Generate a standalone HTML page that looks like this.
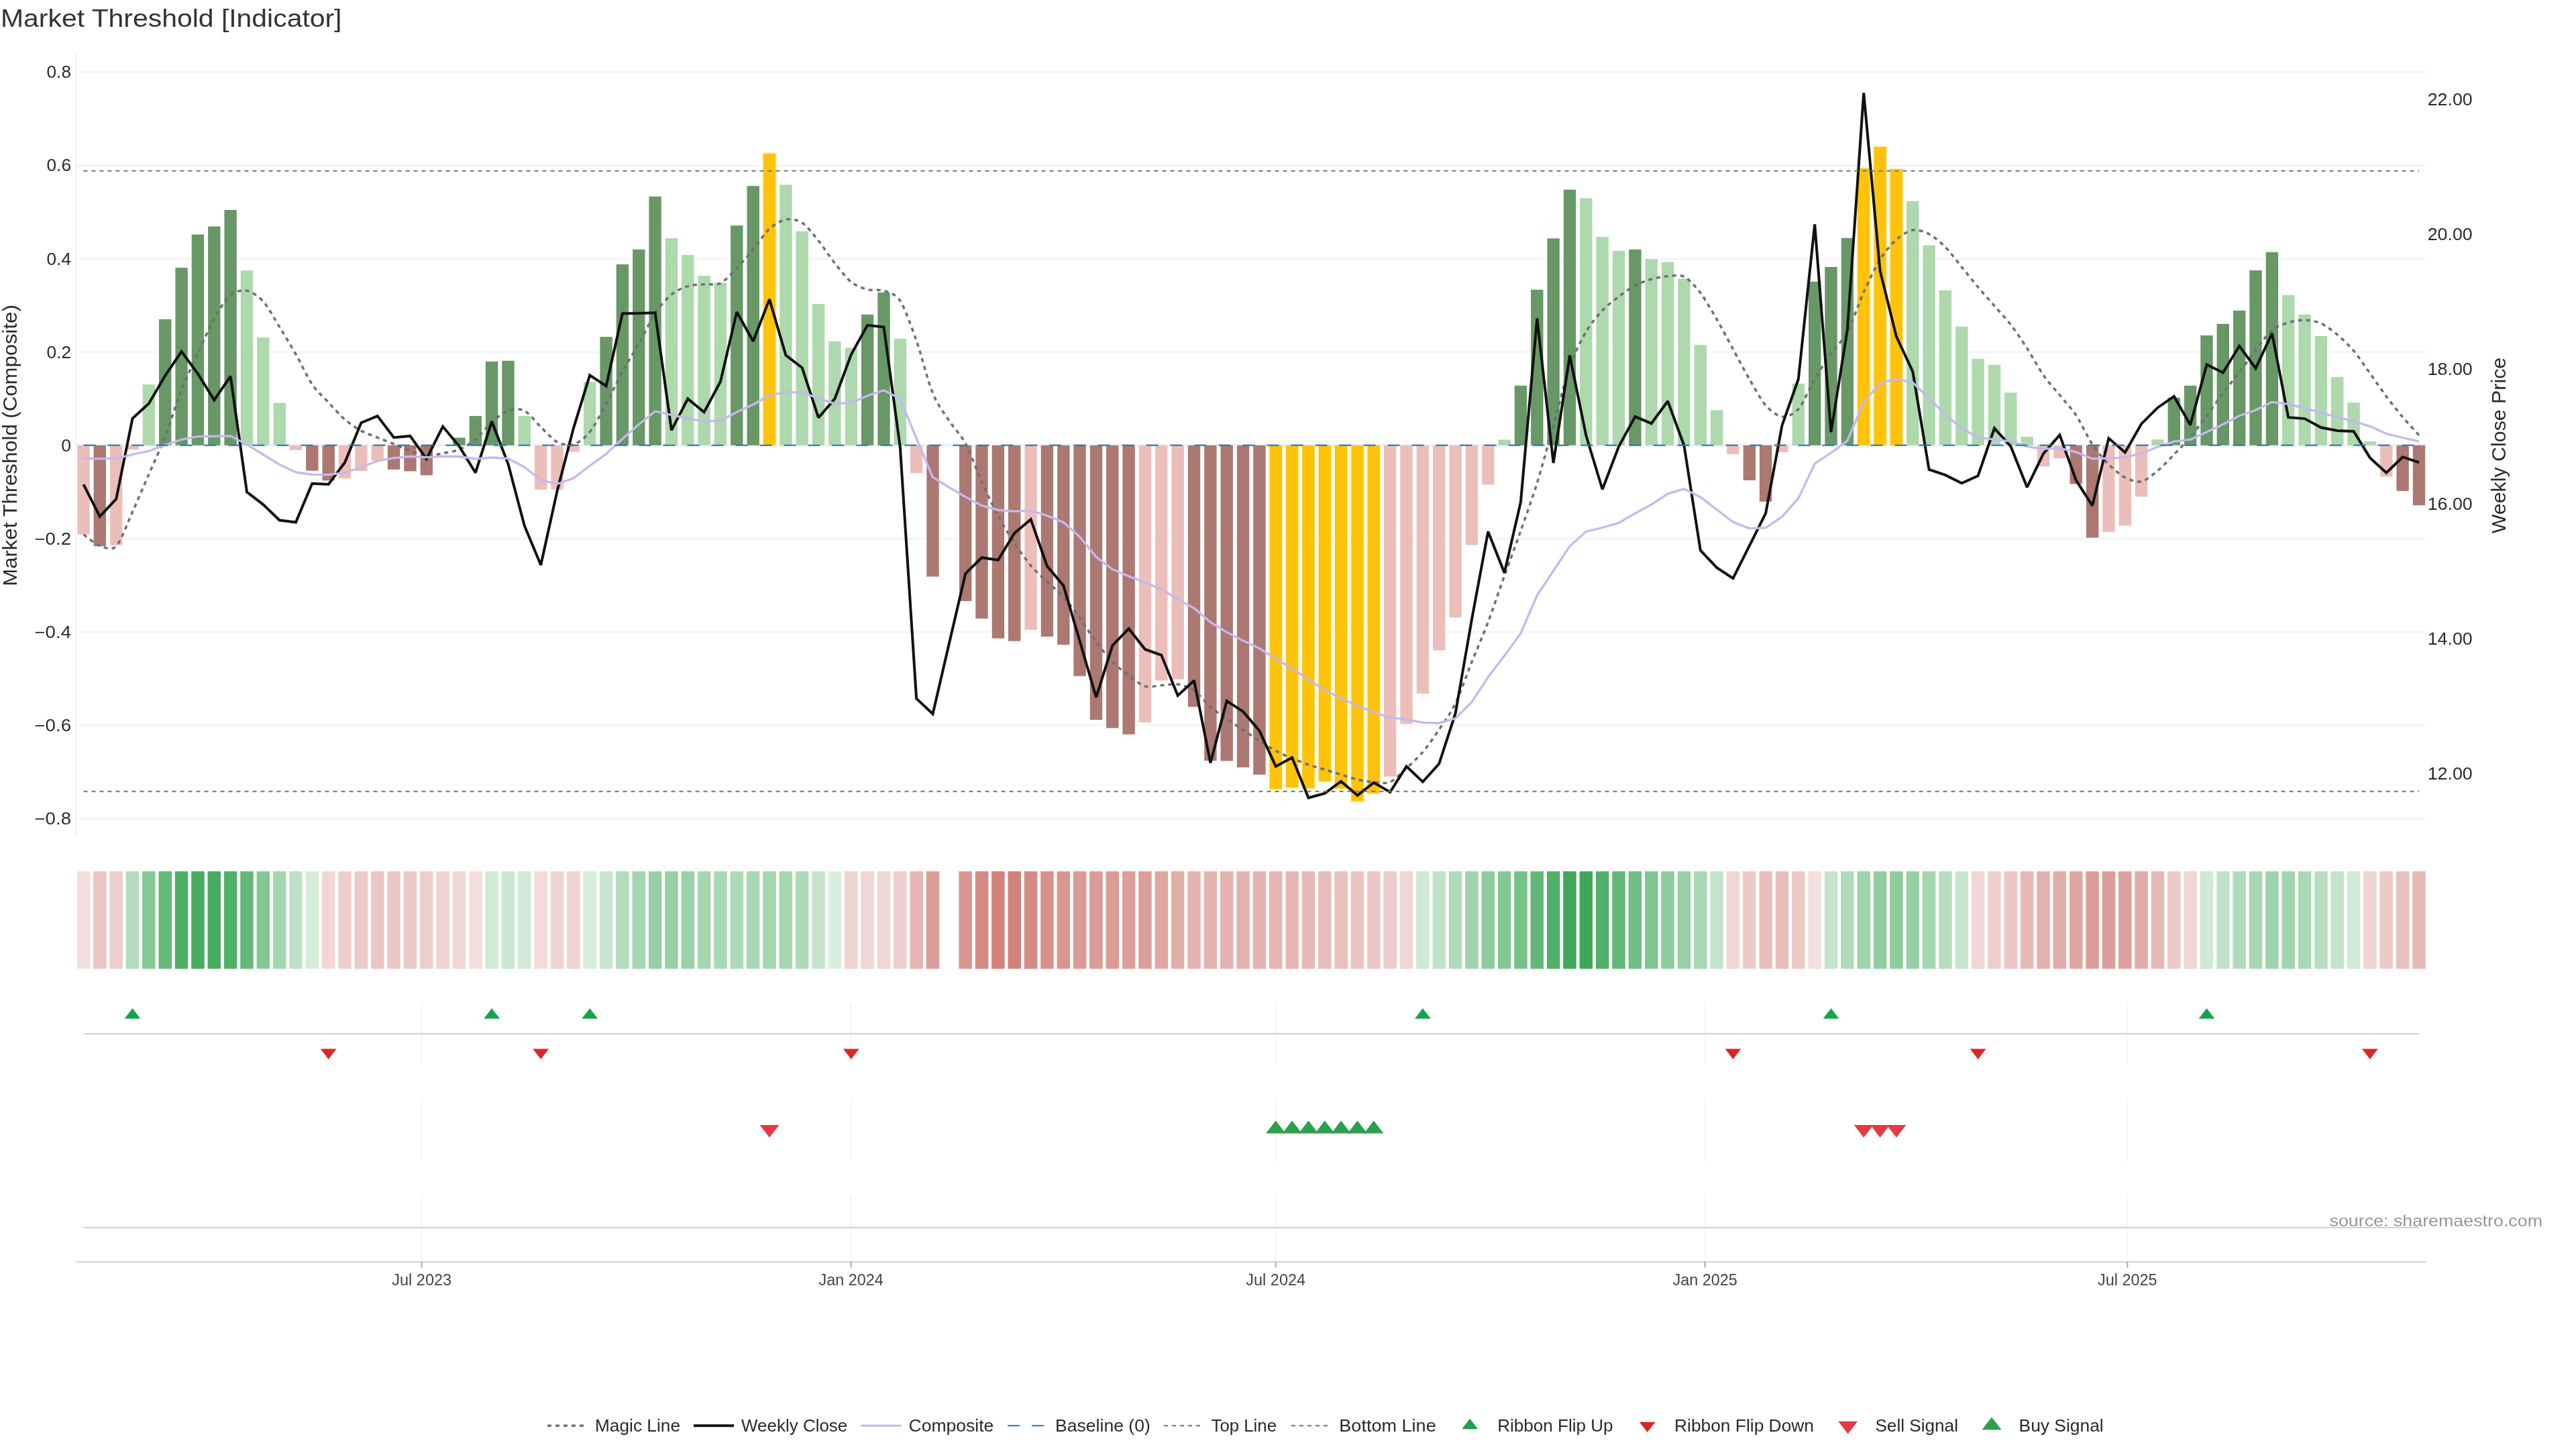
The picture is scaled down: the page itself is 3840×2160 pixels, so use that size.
<!DOCTYPE html>
<html><head><meta charset="utf-8"><title>Market Threshold [Indicator]</title>
<style>html,body{margin:0;padding:0;background:#fff;}svg{display:block;will-change:transform;}text{font-family:"Liberation Sans", sans-serif;}</style></head><body>
<svg width="3840" height="2160" viewBox="0 0 3840 2160">
<rect width="3840" height="2160" fill="#fff"/>
<line x1="113" x2="3616" y1="107.4" y2="107.4" stroke="#eef1f6" stroke-width="2"/>
<line x1="113" x2="3616" y1="247.1" y2="247.1" stroke="#eef1f6" stroke-width="2"/>
<line x1="113" x2="3616" y1="386" y2="386" stroke="#eef1f6" stroke-width="2"/>
<line x1="113" x2="3616" y1="524.8" y2="524.8" stroke="#eef1f6" stroke-width="2"/>
<line x1="113" x2="3616" y1="803" y2="803" stroke="#eef1f6" stroke-width="2"/>
<line x1="113" x2="3616" y1="942.1" y2="942.1" stroke="#eef1f6" stroke-width="2"/>
<line x1="113" x2="3616" y1="1081.3" y2="1081.3" stroke="#eef1f6" stroke-width="2"/>
<line x1="113" x2="3616" y1="1220.5" y2="1220.5" stroke="#eef1f6" stroke-width="2"/>
<line x1="113" x2="3616" y1="663.8" y2="663.8" stroke="#eef0f4" stroke-width="4"/>
<line x1="113" x2="113" y1="80" y2="1248" stroke="#eef0f8" stroke-width="2"/>
<rect x="113.6" y="663.8" width="21.8" height="134.7" fill="#fff"/>
<rect x="115.3" y="663.8" width="18.4" height="133" fill="#ecbeba"/>
<rect x="137.9" y="663.8" width="21.8" height="152.2" fill="#fff"/>
<rect x="139.6" y="663.8" width="18.4" height="150.5" fill="#ac7872"/>
<rect x="162.3" y="663.8" width="21.8" height="150.7" fill="#fff"/>
<rect x="164" y="663.8" width="18.4" height="149" fill="#ecbeba"/>
<rect x="186.6" y="663.8" width="21.8" height="8.3" fill="#fff"/>
<rect x="188.3" y="663.8" width="18.4" height="6.6" fill="#ecbeba"/>
<rect x="211" y="571.5" width="21.8" height="92.3" fill="#fff"/>
<rect x="212.7" y="573.2" width="18.4" height="90.6" fill="#add9ac"/>
<rect x="235.3" y="474.2" width="21.8" height="189.6" fill="#fff"/>
<rect x="237" y="475.9" width="18.4" height="187.9" fill="#679866"/>
<rect x="259.7" y="397.4" width="21.8" height="266.4" fill="#fff"/>
<rect x="261.4" y="399.1" width="18.4" height="264.7" fill="#679866"/>
<rect x="284" y="347.9" width="21.8" height="315.9" fill="#fff"/>
<rect x="285.7" y="349.6" width="18.4" height="314.2" fill="#679866"/>
<rect x="308.4" y="335.9" width="21.8" height="327.9" fill="#fff"/>
<rect x="310.1" y="337.6" width="18.4" height="326.2" fill="#679866"/>
<rect x="332.7" y="311.3" width="21.8" height="352.5" fill="#fff"/>
<rect x="334.4" y="313" width="18.4" height="350.8" fill="#679866"/>
<rect x="357.1" y="401.5" width="21.8" height="262.3" fill="#fff"/>
<rect x="358.8" y="403.2" width="18.4" height="260.6" fill="#add9ac"/>
<rect x="381.4" y="501.4" width="21.8" height="162.4" fill="#fff"/>
<rect x="383.1" y="503.1" width="18.4" height="160.7" fill="#add9ac"/>
<rect x="405.8" y="599" width="21.8" height="64.8" fill="#fff"/>
<rect x="407.5" y="600.7" width="18.4" height="63.1" fill="#add9ac"/>
<rect x="430.1" y="663.8" width="21.8" height="8.7" fill="#fff"/>
<rect x="431.8" y="663.8" width="18.4" height="7" fill="#ecbeba"/>
<rect x="454.4" y="663.8" width="21.8" height="39.6" fill="#fff"/>
<rect x="456.1" y="663.8" width="18.4" height="37.9" fill="#ac7872"/>
<rect x="478.8" y="663.8" width="21.8" height="54.2" fill="#fff"/>
<rect x="480.5" y="663.8" width="18.4" height="52.5" fill="#ac7872"/>
<rect x="503.1" y="663.8" width="21.8" height="51.2" fill="#fff"/>
<rect x="504.8" y="663.8" width="18.4" height="49.5" fill="#ecbeba"/>
<rect x="527.5" y="663.8" width="21.8" height="40" fill="#fff"/>
<rect x="529.2" y="663.8" width="18.4" height="38.3" fill="#ecbeba"/>
<rect x="551.8" y="663.8" width="21.8" height="24.9" fill="#fff"/>
<rect x="553.5" y="663.8" width="18.4" height="23.2" fill="#ecbeba"/>
<rect x="576.2" y="663.8" width="21.8" height="37.8" fill="#fff"/>
<rect x="577.9" y="663.8" width="18.4" height="36.1" fill="#ac7872"/>
<rect x="600.5" y="663.8" width="21.8" height="40.4" fill="#fff"/>
<rect x="602.2" y="663.8" width="18.4" height="38.7" fill="#ac7872"/>
<rect x="624.9" y="663.8" width="21.8" height="46.3" fill="#fff"/>
<rect x="626.6" y="663.8" width="18.4" height="44.6" fill="#ac7872"/>
<rect x="673.6" y="650.8" width="21.8" height="13" fill="#fff"/>
<rect x="675.3" y="652.5" width="18.4" height="11.3" fill="#679866"/>
<rect x="697.9" y="618.4" width="21.8" height="45.4" fill="#fff"/>
<rect x="699.6" y="620.1" width="18.4" height="43.7" fill="#679866"/>
<rect x="722.2" y="537.2" width="21.8" height="126.6" fill="#fff"/>
<rect x="723.9" y="538.9" width="18.4" height="124.9" fill="#679866"/>
<rect x="746.6" y="536.1" width="21.8" height="127.7" fill="#fff"/>
<rect x="748.3" y="537.8" width="18.4" height="126" fill="#679866"/>
<rect x="770.9" y="618.4" width="21.8" height="45.4" fill="#fff"/>
<rect x="772.6" y="620.1" width="18.4" height="43.7" fill="#add9ac"/>
<rect x="795.3" y="663.8" width="21.8" height="67.6" fill="#fff"/>
<rect x="797" y="663.8" width="18.4" height="65.9" fill="#ecbeba"/>
<rect x="819.6" y="663.8" width="21.8" height="67.6" fill="#fff"/>
<rect x="821.3" y="663.8" width="18.4" height="65.9" fill="#ecbeba"/>
<rect x="844" y="663.8" width="21.8" height="11.3" fill="#fff"/>
<rect x="845.7" y="663.8" width="18.4" height="9.6" fill="#ecbeba"/>
<rect x="868.3" y="567.7" width="21.8" height="96.1" fill="#fff"/>
<rect x="870" y="569.4" width="18.4" height="94.4" fill="#add9ac"/>
<rect x="892.7" y="500.5" width="21.8" height="163.3" fill="#fff"/>
<rect x="894.4" y="502.2" width="18.4" height="161.6" fill="#679866"/>
<rect x="917" y="392.4" width="21.8" height="271.4" fill="#fff"/>
<rect x="918.7" y="394.1" width="18.4" height="269.7" fill="#679866"/>
<rect x="941.4" y="370.2" width="21.8" height="293.6" fill="#fff"/>
<rect x="943.1" y="371.9" width="18.4" height="291.9" fill="#679866"/>
<rect x="965.7" y="291.2" width="21.8" height="372.6" fill="#fff"/>
<rect x="967.4" y="292.9" width="18.4" height="370.9" fill="#679866"/>
<rect x="990.1" y="353.5" width="21.8" height="310.3" fill="#fff"/>
<rect x="991.8" y="355.2" width="18.4" height="308.6" fill="#add9ac"/>
<rect x="1014.4" y="378.4" width="21.8" height="285.4" fill="#fff"/>
<rect x="1016.1" y="380.1" width="18.4" height="283.7" fill="#add9ac"/>
<rect x="1038.7" y="409.4" width="21.8" height="254.4" fill="#fff"/>
<rect x="1040.4" y="411.1" width="18.4" height="252.7" fill="#add9ac"/>
<rect x="1063.1" y="419.8" width="21.8" height="244" fill="#fff"/>
<rect x="1064.8" y="421.5" width="18.4" height="242.3" fill="#add9ac"/>
<rect x="1087.4" y="334.5" width="21.8" height="329.3" fill="#fff"/>
<rect x="1089.1" y="336.2" width="18.4" height="327.6" fill="#679866"/>
<rect x="1111.8" y="275.6" width="21.8" height="388.2" fill="#fff"/>
<rect x="1113.5" y="277.3" width="18.4" height="386.5" fill="#679866"/>
<rect x="1135.8" y="226.8" width="22.4" height="437" fill="#fff6d2"/>
<rect x="1137.8" y="228.8" width="18.4" height="435" fill="#fec30a"/>
<rect x="1160.5" y="273.7" width="21.8" height="390.1" fill="#fff"/>
<rect x="1162.2" y="275.4" width="18.4" height="388.4" fill="#add9ac"/>
<rect x="1184.8" y="343" width="21.8" height="320.8" fill="#fff"/>
<rect x="1186.5" y="344.7" width="18.4" height="319.1" fill="#add9ac"/>
<rect x="1209.2" y="451.5" width="21.8" height="212.3" fill="#fff"/>
<rect x="1210.9" y="453.2" width="18.4" height="210.6" fill="#add9ac"/>
<rect x="1233.5" y="507" width="21.8" height="156.8" fill="#fff"/>
<rect x="1235.2" y="508.7" width="18.4" height="155.1" fill="#add9ac"/>
<rect x="1257.9" y="516.7" width="21.8" height="147.1" fill="#fff"/>
<rect x="1259.6" y="518.4" width="18.4" height="145.4" fill="#add9ac"/>
<rect x="1282.2" y="467.1" width="21.8" height="196.7" fill="#fff"/>
<rect x="1283.9" y="468.8" width="18.4" height="195" fill="#679866"/>
<rect x="1306.6" y="434.3" width="21.8" height="229.5" fill="#fff"/>
<rect x="1308.3" y="436" width="18.4" height="227.8" fill="#679866"/>
<rect x="1330.9" y="503.3" width="21.8" height="160.5" fill="#fff"/>
<rect x="1332.6" y="505" width="18.4" height="158.8" fill="#add9ac"/>
<rect x="1355.2" y="663.8" width="21.8" height="43.1" fill="#fff"/>
<rect x="1356.9" y="663.8" width="18.4" height="41.4" fill="#ecbeba"/>
<rect x="1379.6" y="663.8" width="21.8" height="197.4" fill="#fff"/>
<rect x="1381.3" y="663.8" width="18.4" height="195.7" fill="#ac7872"/>
<rect x="1428.3" y="663.8" width="21.8" height="233.9" fill="#fff"/>
<rect x="1430" y="663.8" width="18.4" height="232.2" fill="#ac7872"/>
<rect x="1452.6" y="663.8" width="21.8" height="260" fill="#fff"/>
<rect x="1454.3" y="663.8" width="18.4" height="258.3" fill="#ac7872"/>
<rect x="1477" y="663.8" width="21.8" height="289.5" fill="#fff"/>
<rect x="1478.7" y="663.8" width="18.4" height="287.8" fill="#ac7872"/>
<rect x="1501.3" y="663.8" width="21.8" height="293.6" fill="#fff"/>
<rect x="1503" y="663.8" width="18.4" height="291.9" fill="#ac7872"/>
<rect x="1525.7" y="663.8" width="21.8" height="276.8" fill="#fff"/>
<rect x="1527.4" y="663.8" width="18.4" height="275.1" fill="#ecbeba"/>
<rect x="1550" y="663.8" width="21.8" height="286.9" fill="#fff"/>
<rect x="1551.7" y="663.8" width="18.4" height="285.2" fill="#ac7872"/>
<rect x="1574.4" y="663.8" width="21.8" height="299.1" fill="#fff"/>
<rect x="1576.1" y="663.8" width="18.4" height="297.4" fill="#ac7872"/>
<rect x="1598.7" y="663.8" width="21.8" height="345.7" fill="#fff"/>
<rect x="1600.4" y="663.8" width="18.4" height="344" fill="#ac7872"/>
<rect x="1623.1" y="663.8" width="21.8" height="410.9" fill="#fff"/>
<rect x="1624.8" y="663.8" width="18.4" height="409.2" fill="#ac7872"/>
<rect x="1647.4" y="663.8" width="21.8" height="423.2" fill="#fff"/>
<rect x="1649.1" y="663.8" width="18.4" height="421.5" fill="#ac7872"/>
<rect x="1671.7" y="663.8" width="21.8" height="432.6" fill="#fff"/>
<rect x="1673.4" y="663.8" width="18.4" height="430.9" fill="#ac7872"/>
<rect x="1696.1" y="663.8" width="21.8" height="414.7" fill="#fff"/>
<rect x="1697.8" y="663.8" width="18.4" height="413" fill="#ecbeba"/>
<rect x="1720.4" y="663.8" width="21.8" height="352.4" fill="#fff"/>
<rect x="1722.1" y="663.8" width="18.4" height="350.7" fill="#ecbeba"/>
<rect x="1744.8" y="663.8" width="21.8" height="350.6" fill="#fff"/>
<rect x="1746.5" y="663.8" width="18.4" height="348.9" fill="#ecbeba"/>
<rect x="1769.1" y="663.8" width="21.8" height="391.6" fill="#fff"/>
<rect x="1770.8" y="663.8" width="18.4" height="389.9" fill="#ac7872"/>
<rect x="1793.5" y="663.8" width="21.8" height="471.9" fill="#fff"/>
<rect x="1795.2" y="663.8" width="18.4" height="470.2" fill="#ac7872"/>
<rect x="1817.8" y="663.8" width="21.8" height="472.2" fill="#fff"/>
<rect x="1819.5" y="663.8" width="18.4" height="470.5" fill="#ac7872"/>
<rect x="1842.2" y="663.8" width="21.8" height="481.8" fill="#fff"/>
<rect x="1843.9" y="663.8" width="18.4" height="480.1" fill="#ac7872"/>
<rect x="1866.5" y="663.8" width="21.8" height="492.6" fill="#fff"/>
<rect x="1868.2" y="663.8" width="18.4" height="490.9" fill="#ac7872"/>
<rect x="1890.6" y="663.8" width="22.4" height="514.5" fill="#fff6d2"/>
<rect x="1892.6" y="663.8" width="18.4" height="512.5" fill="#fec30a"/>
<rect x="1914.9" y="663.8" width="22.4" height="512.2" fill="#fff6d2"/>
<rect x="1916.9" y="663.8" width="18.4" height="510.2" fill="#fec30a"/>
<rect x="1939.2" y="663.8" width="22.4" height="513.4" fill="#fff6d2"/>
<rect x="1941.2" y="663.8" width="18.4" height="511.4" fill="#fec30a"/>
<rect x="1963.6" y="663.8" width="22.4" height="502.9" fill="#fff6d2"/>
<rect x="1965.6" y="663.8" width="18.4" height="500.9" fill="#fec30a"/>
<rect x="1987.9" y="663.8" width="22.4" height="513.7" fill="#fff6d2"/>
<rect x="1989.9" y="663.8" width="18.4" height="511.7" fill="#fec30a"/>
<rect x="2012.3" y="663.8" width="22.4" height="532.7" fill="#fff6d2"/>
<rect x="2014.3" y="663.8" width="18.4" height="530.7" fill="#fec30a"/>
<rect x="2036.6" y="663.8" width="22.4" height="520.8" fill="#fff6d2"/>
<rect x="2038.6" y="663.8" width="18.4" height="518.8" fill="#fec30a"/>
<rect x="2061.3" y="663.8" width="21.8" height="495.5" fill="#fff"/>
<rect x="2063" y="663.8" width="18.4" height="493.8" fill="#ecbeba"/>
<rect x="2085.6" y="663.8" width="21.8" height="417.3" fill="#fff"/>
<rect x="2087.3" y="663.8" width="18.4" height="415.6" fill="#ecbeba"/>
<rect x="2110" y="663.8" width="21.8" height="371.8" fill="#fff"/>
<rect x="2111.7" y="663.8" width="18.4" height="370.1" fill="#ecbeba"/>
<rect x="2134.3" y="663.8" width="21.8" height="307.3" fill="#fff"/>
<rect x="2136" y="663.8" width="18.4" height="305.6" fill="#ecbeba"/>
<rect x="2158.7" y="663.8" width="21.8" height="258.5" fill="#fff"/>
<rect x="2160.4" y="663.8" width="18.4" height="256.8" fill="#ecbeba"/>
<rect x="2183" y="663.8" width="21.8" height="150.4" fill="#fff"/>
<rect x="2184.7" y="663.8" width="18.4" height="148.7" fill="#ecbeba"/>
<rect x="2207.4" y="663.8" width="21.8" height="60.3" fill="#fff"/>
<rect x="2209.1" y="663.8" width="18.4" height="58.6" fill="#ecbeba"/>
<rect x="2231.7" y="653.7" width="21.8" height="10.1" fill="#fff"/>
<rect x="2233.4" y="655.4" width="18.4" height="8.4" fill="#add9ac"/>
<rect x="2256" y="573.2" width="21.8" height="90.6" fill="#fff"/>
<rect x="2257.7" y="574.9" width="18.4" height="88.9" fill="#679866"/>
<rect x="2280.4" y="430.1" width="21.8" height="233.7" fill="#fff"/>
<rect x="2282.1" y="431.8" width="18.4" height="232" fill="#679866"/>
<rect x="2304.7" y="353.7" width="21.8" height="310.1" fill="#fff"/>
<rect x="2306.4" y="355.4" width="18.4" height="308.4" fill="#679866"/>
<rect x="2329.1" y="281" width="21.8" height="382.8" fill="#fff"/>
<rect x="2330.8" y="282.7" width="18.4" height="381.1" fill="#679866"/>
<rect x="2353.4" y="293.7" width="21.8" height="370.1" fill="#fff"/>
<rect x="2355.1" y="295.4" width="18.4" height="368.4" fill="#add9ac"/>
<rect x="2377.8" y="351.5" width="21.8" height="312.3" fill="#fff"/>
<rect x="2379.5" y="353.2" width="18.4" height="310.6" fill="#add9ac"/>
<rect x="2402.1" y="372.3" width="21.8" height="291.5" fill="#fff"/>
<rect x="2403.8" y="374" width="18.4" height="289.8" fill="#add9ac"/>
<rect x="2426.5" y="370.1" width="21.8" height="293.7" fill="#fff"/>
<rect x="2428.2" y="371.8" width="18.4" height="292" fill="#679866"/>
<rect x="2450.8" y="384.3" width="21.8" height="279.5" fill="#fff"/>
<rect x="2452.5" y="386" width="18.4" height="277.8" fill="#add9ac"/>
<rect x="2475.2" y="389.1" width="21.8" height="274.7" fill="#fff"/>
<rect x="2476.9" y="390.8" width="18.4" height="273" fill="#add9ac"/>
<rect x="2499.5" y="413.7" width="21.8" height="250.1" fill="#fff"/>
<rect x="2501.2" y="415.4" width="18.4" height="248.4" fill="#add9ac"/>
<rect x="2523.9" y="512.5" width="21.8" height="151.3" fill="#fff"/>
<rect x="2525.6" y="514.2" width="18.4" height="149.6" fill="#add9ac"/>
<rect x="2548.2" y="609.7" width="21.8" height="54.1" fill="#fff"/>
<rect x="2549.9" y="611.4" width="18.4" height="52.4" fill="#add9ac"/>
<rect x="2572.5" y="663.8" width="21.8" height="14.9" fill="#fff"/>
<rect x="2574.2" y="663.8" width="18.4" height="13.2" fill="#ecbeba"/>
<rect x="2596.9" y="663.8" width="21.8" height="53.9" fill="#fff"/>
<rect x="2598.6" y="663.8" width="18.4" height="52.2" fill="#ac7872"/>
<rect x="2621.2" y="663.8" width="21.8" height="85.6" fill="#fff"/>
<rect x="2622.9" y="663.8" width="18.4" height="83.9" fill="#ac7872"/>
<rect x="2645.6" y="663.8" width="21.8" height="11.9" fill="#fff"/>
<rect x="2647.3" y="663.8" width="18.4" height="10.2" fill="#ecbeba"/>
<rect x="2669.9" y="570.2" width="21.8" height="93.6" fill="#fff"/>
<rect x="2671.6" y="571.9" width="18.4" height="91.9" fill="#add9ac"/>
<rect x="2694.3" y="418.1" width="21.8" height="245.7" fill="#fff"/>
<rect x="2696" y="419.8" width="18.4" height="244" fill="#679866"/>
<rect x="2718.6" y="396.3" width="21.8" height="267.5" fill="#fff"/>
<rect x="2720.3" y="398" width="18.4" height="265.8" fill="#679866"/>
<rect x="2743" y="353.1" width="21.8" height="310.7" fill="#fff"/>
<rect x="2744.7" y="354.8" width="18.4" height="309" fill="#679866"/>
<rect x="2767" y="248.9" width="22.4" height="414.9" fill="#fff6d2"/>
<rect x="2769" y="250.9" width="18.4" height="412.9" fill="#fec30a"/>
<rect x="2791.4" y="216.9" width="22.4" height="446.9" fill="#fff6d2"/>
<rect x="2793.4" y="218.9" width="18.4" height="444.9" fill="#fec30a"/>
<rect x="2815.7" y="250.1" width="22.4" height="413.7" fill="#fff6d2"/>
<rect x="2817.7" y="252.1" width="18.4" height="411.7" fill="#fec30a"/>
<rect x="2840.4" y="298.1" width="21.8" height="365.7" fill="#fff"/>
<rect x="2842.1" y="299.8" width="18.4" height="364" fill="#add9ac"/>
<rect x="2864.7" y="364" width="21.8" height="299.8" fill="#fff"/>
<rect x="2866.4" y="365.7" width="18.4" height="298.1" fill="#add9ac"/>
<rect x="2889" y="431.1" width="21.8" height="232.7" fill="#fff"/>
<rect x="2890.7" y="432.8" width="18.4" height="231" fill="#add9ac"/>
<rect x="2913.4" y="485.1" width="21.8" height="178.7" fill="#fff"/>
<rect x="2915.1" y="486.8" width="18.4" height="177" fill="#add9ac"/>
<rect x="2937.7" y="533.3" width="21.8" height="130.5" fill="#fff"/>
<rect x="2939.4" y="535" width="18.4" height="128.8" fill="#add9ac"/>
<rect x="2962.1" y="542.3" width="21.8" height="121.5" fill="#fff"/>
<rect x="2963.8" y="544" width="18.4" height="119.8" fill="#add9ac"/>
<rect x="2986.4" y="583.6" width="21.8" height="80.2" fill="#fff"/>
<rect x="2988.1" y="585.3" width="18.4" height="78.5" fill="#add9ac"/>
<rect x="3010.8" y="649.4" width="21.8" height="14.4" fill="#fff"/>
<rect x="3012.5" y="651.1" width="18.4" height="12.7" fill="#add9ac"/>
<rect x="3035.1" y="663.8" width="21.8" height="33.3" fill="#fff"/>
<rect x="3036.8" y="663.8" width="18.4" height="31.6" fill="#ecbeba"/>
<rect x="3059.5" y="663.8" width="21.8" height="21" fill="#fff"/>
<rect x="3061.2" y="663.8" width="18.4" height="19.3" fill="#ecbeba"/>
<rect x="3083.8" y="663.8" width="21.8" height="59.4" fill="#fff"/>
<rect x="3085.5" y="663.8" width="18.4" height="57.7" fill="#ac7872"/>
<rect x="3108.2" y="663.8" width="21.8" height="139.5" fill="#fff"/>
<rect x="3109.9" y="663.8" width="18.4" height="137.8" fill="#ac7872"/>
<rect x="3132.5" y="663.8" width="21.8" height="130.9" fill="#fff"/>
<rect x="3134.2" y="663.8" width="18.4" height="129.2" fill="#ecbeba"/>
<rect x="3156.9" y="663.8" width="21.8" height="121.3" fill="#fff"/>
<rect x="3158.6" y="663.8" width="18.4" height="119.6" fill="#ecbeba"/>
<rect x="3181.2" y="663.8" width="21.8" height="78.4" fill="#fff"/>
<rect x="3182.9" y="663.8" width="18.4" height="76.7" fill="#ecbeba"/>
<rect x="3205.5" y="653.5" width="21.8" height="10.3" fill="#fff"/>
<rect x="3207.2" y="655.2" width="18.4" height="8.6" fill="#add9ac"/>
<rect x="3229.9" y="591.1" width="21.8" height="72.7" fill="#fff"/>
<rect x="3231.6" y="592.8" width="18.4" height="71" fill="#679866"/>
<rect x="3254.2" y="573.2" width="21.8" height="90.6" fill="#fff"/>
<rect x="3255.9" y="574.9" width="18.4" height="88.9" fill="#679866"/>
<rect x="3278.6" y="498.3" width="21.8" height="165.5" fill="#fff"/>
<rect x="3280.3" y="500" width="18.4" height="163.8" fill="#679866"/>
<rect x="3302.9" y="481.1" width="21.8" height="182.7" fill="#fff"/>
<rect x="3304.6" y="482.8" width="18.4" height="181" fill="#679866"/>
<rect x="3327.3" y="461.3" width="21.8" height="202.5" fill="#fff"/>
<rect x="3329" y="463" width="18.4" height="200.8" fill="#679866"/>
<rect x="3351.6" y="401.3" width="21.8" height="262.5" fill="#fff"/>
<rect x="3353.3" y="403" width="18.4" height="260.8" fill="#679866"/>
<rect x="3376" y="374.1" width="21.8" height="289.7" fill="#fff"/>
<rect x="3377.7" y="375.8" width="18.4" height="288" fill="#679866"/>
<rect x="3400.3" y="438.2" width="21.8" height="225.6" fill="#fff"/>
<rect x="3402" y="439.9" width="18.4" height="223.9" fill="#add9ac"/>
<rect x="3424.7" y="467.2" width="21.8" height="196.6" fill="#fff"/>
<rect x="3426.4" y="468.9" width="18.4" height="194.9" fill="#add9ac"/>
<rect x="3449" y="499.3" width="21.8" height="164.5" fill="#fff"/>
<rect x="3450.7" y="501" width="18.4" height="162.8" fill="#add9ac"/>
<rect x="3473.3" y="560.4" width="21.8" height="103.4" fill="#fff"/>
<rect x="3475" y="562.1" width="18.4" height="101.7" fill="#add9ac"/>
<rect x="3497.7" y="598.5" width="21.8" height="65.3" fill="#fff"/>
<rect x="3499.4" y="600.2" width="18.4" height="63.6" fill="#add9ac"/>
<rect x="3522" y="656.1" width="21.8" height="7.7" fill="#fff"/>
<rect x="3523.7" y="657.8" width="18.4" height="6" fill="#add9ac"/>
<rect x="3546.4" y="663.8" width="21.8" height="48.6" fill="#fff"/>
<rect x="3548.1" y="663.8" width="18.4" height="46.9" fill="#ecbeba"/>
<rect x="3570.7" y="663.8" width="21.8" height="69.8" fill="#fff"/>
<rect x="3572.4" y="663.8" width="18.4" height="68.1" fill="#ac7872"/>
<rect x="3595.1" y="663.8" width="21.8" height="91.1" fill="#fff"/>
<rect x="3596.8" y="663.8" width="18.4" height="89.4" fill="#ac7872"/>
<path d="M124.5,796.8 C128,799.2 141.9,811 148.8,813.5 C155.8,816 166.2,821.5 173.2,814.3 C180.1,807.1 190.6,778.3 197.5,763 C204.5,747.7 214.9,723 221.9,707 C228.8,691 239.3,669 246.2,651 C253.2,633 263.6,598.7 270.6,581 C277.5,563.3 288,542.1 294.9,527 C301.9,511.9 312.3,487.5 319.3,475 C326.2,462.5 336.7,445.6 343.6,439.7 C350.6,433.8 361,432.1 368,433.4 C374.9,434.7 385.3,441.4 392.3,449.1 C399.3,456.8 409.7,476.2 416.7,487.5 C423.6,498.8 434,515.8 441,528 C448,540.2 458.4,562.7 465.3,573 C472.3,583.3 482.7,592.5 489.7,600 C496.6,607.5 507.1,619.3 514,625.3 C521,631.3 531.4,638.3 538.4,642.1 C545.3,645.9 555.8,649.4 562.7,652.2 C569.7,655 580.1,659.1 587.1,661.9 C594,664.7 604.5,669.4 611.4,671.9 C618.4,674.4 628.8,678.9 635.8,679.4 C642.7,679.9 653.2,677 660.1,675.7 C667.1,674.4 677.5,673 684.5,670.1 C691.4,667.2 701.8,661.1 708.8,655.2 C715.8,649.3 726.2,635.2 733.1,629.1 C740.1,623 750.5,614.7 757.5,612.3 C764.5,609.9 774.9,608.8 781.8,612.3 C788.8,615.8 799.2,629.8 806.2,636.5 C813.1,643.2 823.6,655.2 830.5,658.9 C837.5,662.6 847.9,664.7 854.9,662.6 C861.8,660.5 872.3,652.7 879.2,644 C886.2,635.3 896.6,614.9 903.6,602 C910.5,589.1 921,566.4 927.9,553.6 C934.9,540.8 945.3,525 952.3,512.6 C959.2,500.2 969.7,477.5 976.6,467 C983.6,456.5 994,444.8 1001,439 C1007.9,433.2 1018.3,428.9 1025.3,426.7 C1032.3,424.5 1042.7,424.3 1049.6,423.7 C1056.6,423.1 1067,425.6 1074,422.2 C1081,418.8 1091.4,407.1 1098.3,399.9 C1105.3,392.7 1115.7,380.3 1122.7,371.9 C1129.6,363.5 1140.1,347.4 1147,341 C1154,334.6 1164.4,328.5 1171.4,327.2 C1178.3,325.9 1188.8,327.5 1195.7,332 C1202.7,336.5 1213.1,350.3 1220.1,358.9 C1227,367.5 1237.5,383.6 1244.4,392.4 C1251.4,401.2 1261.8,414.8 1268.8,420.4 C1275.7,426 1286.2,429.7 1293.1,431.6 C1300.1,433.5 1310.5,431 1317.5,433.4 C1324.4,435.8 1334.8,437.6 1341.8,448.3 C1348.8,459 1359.2,488.3 1366.1,508 C1373.1,527.7 1383.5,569.2 1390.5,586.2 C1397.4,603.2 1407.9,616.5 1414.8,627.2 C1421.8,637.9 1432.2,648 1439.2,661 C1446.1,674 1456.6,703 1463.5,718.4 C1470.5,733.8 1480.9,755.6 1487.9,768.6 C1494.8,781.6 1505.3,799 1512.2,809.6 C1519.2,820.2 1529.6,834.9 1536.6,843.1 C1543.5,851.3 1554,860.6 1560.9,867.3 C1567.9,874 1578.3,882 1585.3,889.7 C1592.2,897.4 1602.7,911.8 1609.6,921.4 C1616.6,931 1627,947.5 1634,956.8 C1640.9,966.1 1651.3,979.4 1658.3,986.6 C1665.3,993.8 1675.7,1001.9 1682.6,1007.1 C1689.6,1012.3 1700,1021 1707,1023.1 C1713.9,1025.2 1724.4,1022 1731.3,1021.6 C1738.3,1021.2 1748.7,1019 1755.7,1020.1 C1762.6,1021.2 1773.1,1024.6 1780,1029.4 C1787,1034.2 1797.4,1047.8 1804.4,1053.8 C1811.3,1059.8 1821.8,1066.6 1828.7,1071.5 C1835.7,1076.4 1846.1,1083.6 1853.1,1088.3 C1860,1093 1870.5,1100 1877.4,1104.4 C1884.4,1108.8 1894.8,1115.6 1901.8,1119.3 C1908.7,1123 1919.1,1127.5 1926.1,1130.4 C1933.1,1133.3 1943.5,1137.4 1950.5,1139.8 C1957.4,1142.2 1967.8,1145.1 1974.8,1147.2 C1981.8,1149.3 1992.2,1152.6 1999.1,1154.7 C2006.1,1156.8 2016.5,1160.5 2023.5,1162.1 C2030.4,1163.7 2040.9,1165.3 2047.8,1165.8 C2054.8,1166.3 2065.2,1168.7 2072.2,1165.8 C2079.1,1162.9 2089.6,1151.7 2096.5,1145.3 C2103.5,1138.9 2113.9,1129.3 2120.9,1121.1 C2127.8,1112.9 2138.3,1098 2145.2,1087.6 C2152.2,1077.2 2162.6,1062.9 2169.6,1048.5 C2176.5,1034.1 2187,1004.3 2193.9,987 C2200.9,969.7 2211.3,945.7 2218.3,927.3 C2225.2,908.9 2235.6,877.8 2242.6,858.4 C2249.6,839 2260,811.1 2266.9,791.3 C2273.9,771.5 2284.3,742.5 2291.3,720.1 C2298.2,697.7 2308.7,659 2315.6,634.2 C2322.6,609.4 2333,566.6 2340,546.6 C2346.9,526.6 2357.4,506.4 2364.3,494.4 C2371.3,482.4 2381.7,470.2 2388.7,462.7 C2395.6,455.2 2406.1,447.5 2413,442.2 C2420,436.9 2430.4,429.2 2437.4,425.5 C2444.3,421.8 2454.8,418.2 2461.7,416.2 C2468.7,414.2 2479.1,412.2 2486.1,411.7 C2493,411.2 2503.5,408.8 2510.4,412.4 C2517.4,416 2527.8,427.5 2534.8,436.6 C2541.7,445.7 2552.1,463.8 2559.1,475.8 C2566.1,487.8 2576.5,507.7 2583.4,520.5 C2590.4,533.3 2600.8,553.2 2607.8,565.2 C2614.7,577.2 2625.2,596.4 2632.1,604.4 C2639.1,612.4 2649.5,620.3 2656.5,621.1 C2663.4,621.9 2673.9,617.9 2680.8,609.9 C2687.8,601.9 2698.2,576.8 2705.2,565 C2712.1,553.2 2722.6,537 2729.5,527 C2736.5,517 2746.9,508.1 2753.9,495 C2760.8,481.9 2771.3,450.8 2778.2,435.4 C2785.2,420 2795.6,398.2 2802.6,387 C2809.5,375.8 2819.9,363.4 2826.9,357.1 C2833.9,350.8 2844.3,344.2 2851.3,343 C2858.2,341.8 2868.6,345.3 2875.6,348.9 C2882.6,352.5 2893,361.3 2899.9,368.3 C2906.9,375.3 2917.3,389.6 2924.3,398.1 C2931.2,406.6 2941.7,419.7 2948.6,428 C2955.6,436.3 2966,447.9 2973,455.9 C2979.9,463.9 2990.4,474.9 2997.3,483.9 C3004.3,492.9 3014.7,508.4 3021.7,519.2 C3028.6,530 3039.1,549.2 3046,559.2 C3053,569.2 3063.4,580.5 3070.4,589 C3077.3,597.5 3087.8,608.5 3094.7,619 C3101.7,629.5 3112.1,652.1 3119.1,662.6 C3126,673.1 3136.4,685.4 3143.4,692.4 C3150.4,699.4 3160.8,708.2 3167.8,711.8 C3174.7,715.4 3185.1,719.2 3192.1,717.8 C3199.1,716.4 3209.5,707.5 3216.4,701.7 C3223.4,695.9 3233.8,684.7 3240.8,677.5 C3247.7,670.3 3258.2,659.6 3265.1,651.4 C3272.1,643.2 3282.5,629.3 3289.5,620 C3296.4,610.7 3306.9,595.3 3313.8,586 C3320.8,576.7 3331.2,564.1 3338.2,555 C3345.1,545.9 3355.6,531 3362.5,522 C3369.5,513 3379.9,498.1 3386.9,492.2 C3393.8,486.3 3404.3,483 3411.2,480.9 C3418.2,478.8 3428.6,477 3435.6,477.2 C3442.5,477.4 3452.9,478.9 3459.9,482 C3466.9,485.1 3477.3,492.9 3484.2,498.8 C3491.2,504.7 3501.6,514.8 3508.6,523 C3515.6,531.2 3526,546.8 3532.9,556.5 C3539.9,566.2 3550.3,581.6 3557.3,590.9 C3564.2,600.2 3574.7,613.4 3581.6,621.7 C3588.6,630 3602.5,644.8 3606,648.7" fill="none" stroke="#6e7075" stroke-width="3.5" stroke-dasharray="6 6"/>
<polyline points="124.5,722.2 148.8,769.9 173.2,743.9 197.5,623.9 221.9,601.5 246.2,560.1 270.6,524 294.9,557.1 319.3,596.3 343.6,560.9 368,733.4 392.3,752.1 416.7,775.5 441,778.5 465.3,720.7 489.7,721.9 514,689.4 538.4,630.2 562.7,620.1 587.1,652.2 611.4,649.9 635.8,684.2 660.1,635.8 684.5,665.2 708.8,704.7 733.1,628.3 757.5,691.7 781.8,783.7 806.2,842.2 830.5,732.3 854.9,638.3 879.2,559.4 903.6,575.5 927.9,467.2 952.3,467 976.6,466.2 1001,641.4 1025.3,594.4 1049.6,614.5 1074,568.7 1098.3,465.1 1122.7,508.7 1147,446.1 1171.4,529.6 1195.7,548.2 1220.1,622.7 1244.4,594.4 1268.8,528.5 1293.1,484.8 1317.5,487.5 1341.8,666.3 1366.1,1041.4 1390.5,1064.1 1414.8,959.5 1439.2,855 1463.5,831.2 1487.9,834.9 1512.2,794.7 1536.6,774.2 1560.9,843.9 1585.3,872.9 1609.6,955.6 1634,1039.5 1658.3,962.4 1682.6,937 1707,968 1731.3,976.5 1755.7,1036.9 1780,1014.5 1804.4,1137.2 1828.7,1044.9 1853.1,1060.7 1877.4,1089.4 1901.8,1142.4 1926.1,1129.3 1950.5,1189.3 1974.8,1182.6 1999.1,1164.7 2023.5,1185.6 2047.8,1166.6 2072.2,1180.8 2096.5,1142.4 2120.9,1165.5 2145.2,1138.6 2169.6,1063.4 2193.9,923.6 2218.3,792.4 2242.6,853.9 2266.9,748.4 2291.3,474.7 2315.6,690.1 2340,529.8 2364.3,649.1 2388.7,729.5 2413,665.8 2437.4,621.1 2461.7,631.2 2486.1,598 2510.4,664 2534.8,820.4 2559.1,846.1 2583.4,862.1 2607.8,813.7 2632.1,765.2 2656.5,634.2 2680.8,565.2 2705.2,334.5 2729.5,644.2 2753.9,491.3 2778.2,138.4 2802.6,403.7 2826.9,501.7 2851.3,553.9 2875.6,700 2899.9,708.1 2924.3,720.4 2948.6,709.2 2973,638.4 2997.3,665.2 3021.7,726.3 3046,676.4 3070.4,648.4 3094.7,715.9 3119.1,753.9 3143.4,653.3 3167.8,674.5 3192.1,631.9 3216.4,607.7 3240.8,590.9 3265.1,633.6 3289.5,543.4 3313.8,555.5 3338.2,515.8 3362.5,549 3386.9,496.8 3411.2,622.2 3435.6,624.1 3459.9,637.3 3484.2,642 3508.6,642.9 3532.9,682.4 3557.3,704.7 3581.6,681.2 3606,689.4" fill="none" stroke="#111" stroke-width="4" stroke-linejoin="miter" stroke-miterlimit="2"/>
<polyline points="124.5,683.5 148.8,683.9 173.2,683.5 197.5,677.5 221.9,672.3 246.2,663.4 270.6,655.2 294.9,650.7 319.3,650.3 343.6,649.9 368,662.6 392.3,677.5 416.7,692.4 441,704 465.3,707.3 489.7,707.7 514,704.7 538.4,696.2 562.7,687.2 587.1,682.7 611.4,680.5 635.8,681.6 660.1,680.5 684.5,680.5 708.8,684.2 733.1,682 757.5,683.5 781.8,696.2 806.2,715.5 830.5,721.5 854.9,712.9 879.2,694.3 903.6,676.6 927.9,654.3 952.3,632.8 976.6,613 1001,618.6 1025.3,623.5 1049.6,628.3 1074,627.2 1098.3,614.2 1122.7,603 1147,589.2 1171.4,584.4 1195.7,585.1 1220.1,593.7 1244.4,601.9 1268.8,600.4 1293.1,589.9 1317.5,581.7 1341.8,594.4 1366.1,653.3 1390.5,711.4 1414.8,726.5 1439.2,740.6 1463.5,753.7 1487.9,760.4 1512.2,762.2 1536.6,761.1 1560.9,768.6 1585.3,778.6 1609.6,800.2 1634,830.1 1658.3,848.7 1682.6,859.1 1707,868.1 1731.3,878.5 1755.7,893.4 1780,906.5 1804.4,927.5 1828.7,942.4 1853.1,955.1 1877.4,966.5 1901.8,982.1 1926.1,996.3 1950.5,1013 1974.8,1028.7 1999.1,1041 2023.5,1052.2 2047.8,1061.5 2072.2,1069.7 2096.5,1072.7 2120.9,1077.1 2145.2,1077.9 2169.6,1070.8 2193.9,1046.6 2218.3,1009.3 2242.6,977.6 2266.9,944.1 2291.3,887.5 2315.6,850.9 2340,814.4 2364.3,792.4 2388.7,786.5 2413,779.4 2437.4,765.2 2461.7,752.2 2486.1,736.1 2510.4,728.7 2534.8,741 2559.1,759.6 2583.4,778.3 2607.8,787.6 2632.1,786.8 2656.5,770.1 2680.8,742.9 2705.2,691.2 2729.5,675 2753.9,657 2778.2,599.4 2802.6,571.4 2826.9,564.7 2851.3,570.3 2875.6,593.8 2899.9,617.9 2924.3,638.4 2948.6,652.2 2973,655.2 2997.3,657.8 3021.7,665.6 3046,669.3 3070.4,668.2 3094.7,673.8 3119.1,683.9 3143.4,683.1 3167.8,682 3192.1,675.7 3216.4,666.3 3240.8,658.1 3265.1,655.2 3289.5,644 3313.8,632.5 3338.2,619.8 3362.5,611.2 3386.9,599.3 3411.2,602.3 3435.6,608.6 3459.9,615.2 3484.2,622.1 3508.6,627.8 3532.9,635.6 3557.3,646.6 3581.6,652.5 3606,658.1" fill="none" stroke="#c5b8ed" stroke-width="3.3" stroke-linejoin="round"/>
<line x1="124.5" x2="3606" y1="663.8" y2="663.8" stroke="#1f77b4" stroke-width="2" stroke-dasharray="18 18"/>
<line x1="124.5" x2="3606" y1="254.7" y2="254.7" stroke="#737373" stroke-width="2" stroke-dasharray="6 6"/>
<line x1="124.5" x2="3606" y1="1179.8" y2="1179.8" stroke="#737373" stroke-width="2" stroke-dasharray="6 6"/>
<rect x="114.8" y="1298.8" width="19.5" height="145.4" fill="#f3dfdd"/>
<rect x="139.1" y="1298.8" width="19.5" height="145.4" fill="#ebc6c4"/>
<rect x="163.4" y="1298.8" width="19.5" height="145.4" fill="#eececc"/>
<rect x="187.8" y="1298.8" width="19.5" height="145.4" fill="#b2dcbc"/>
<rect x="212.1" y="1298.8" width="19.5" height="145.4" fill="#86c896"/>
<rect x="236.5" y="1298.8" width="19.5" height="145.4" fill="#65b979"/>
<rect x="260.8" y="1298.8" width="19.5" height="145.4" fill="#4faf66"/>
<rect x="285.2" y="1298.8" width="19.5" height="145.4" fill="#48ac60"/>
<rect x="309.5" y="1298.8" width="19.5" height="145.4" fill="#48ac60"/>
<rect x="333.9" y="1298.8" width="19.5" height="145.4" fill="#51b068"/>
<rect x="358.2" y="1298.8" width="19.5" height="145.4" fill="#63b878"/>
<rect x="382.6" y="1298.8" width="19.5" height="145.4" fill="#83c793"/>
<rect x="406.9" y="1298.8" width="19.5" height="145.4" fill="#a4d6b0"/>
<rect x="431.2" y="1298.8" width="19.5" height="145.4" fill="#bde1c6"/>
<rect x="455.6" y="1298.8" width="19.5" height="145.4" fill="#d5ecda"/>
<rect x="479.9" y="1298.8" width="19.5" height="145.4" fill="#f0d6d5"/>
<rect x="504.3" y="1298.8" width="19.5" height="145.4" fill="#eececc"/>
<rect x="528.6" y="1298.8" width="19.5" height="145.4" fill="#eccac7"/>
<rect x="553" y="1298.8" width="19.5" height="145.4" fill="#ebc6c4"/>
<rect x="577.3" y="1298.8" width="19.5" height="145.4" fill="#ebc6c4"/>
<rect x="601.7" y="1298.8" width="19.5" height="145.4" fill="#eccac7"/>
<rect x="626" y="1298.8" width="19.5" height="145.4" fill="#eececc"/>
<rect x="650.4" y="1298.8" width="19.5" height="145.4" fill="#efd3d1"/>
<rect x="674.7" y="1298.8" width="19.5" height="145.4" fill="#f0d6d5"/>
<rect x="699.1" y="1298.8" width="19.5" height="145.4" fill="#f3dfdd"/>
<rect x="723.4" y="1298.8" width="19.5" height="145.4" fill="#d1ead7"/>
<rect x="747.7" y="1298.8" width="19.5" height="145.4" fill="#cce8d2"/>
<rect x="772.1" y="1298.8" width="19.5" height="145.4" fill="#d1ead7"/>
<rect x="796.4" y="1298.8" width="19.5" height="145.4" fill="#f2dbda"/>
<rect x="820.8" y="1298.8" width="19.5" height="145.4" fill="#efd3d1"/>
<rect x="845.1" y="1298.8" width="19.5" height="145.4" fill="#efd3d1"/>
<rect x="869.5" y="1298.8" width="19.5" height="145.4" fill="#d7eddc"/>
<rect x="893.8" y="1298.8" width="19.5" height="145.4" fill="#c8e6cf"/>
<rect x="918.2" y="1298.8" width="19.5" height="145.4" fill="#b2dcbc"/>
<rect x="942.5" y="1298.8" width="19.5" height="145.4" fill="#a4d6b0"/>
<rect x="966.9" y="1298.8" width="19.5" height="145.4" fill="#95cfa3"/>
<rect x="991.2" y="1298.8" width="19.5" height="145.4" fill="#97d0a4"/>
<rect x="1015.6" y="1298.8" width="19.5" height="145.4" fill="#9ad1a8"/>
<rect x="1039.9" y="1298.8" width="19.5" height="145.4" fill="#a4d6b0"/>
<rect x="1064.2" y="1298.8" width="19.5" height="145.4" fill="#a9d8b4"/>
<rect x="1088.6" y="1298.8" width="19.5" height="145.4" fill="#addab7"/>
<rect x="1112.9" y="1298.8" width="19.5" height="145.4" fill="#a7d7b3"/>
<rect x="1137.3" y="1298.8" width="19.5" height="145.4" fill="#a4d6b0"/>
<rect x="1161.6" y="1298.8" width="19.5" height="145.4" fill="#a4d6b0"/>
<rect x="1186" y="1298.8" width="19.5" height="145.4" fill="#addab7"/>
<rect x="1210.3" y="1298.8" width="19.5" height="145.4" fill="#c3e4cb"/>
<rect x="1234.7" y="1298.8" width="19.5" height="145.4" fill="#daeedf"/>
<rect x="1259" y="1298.8" width="19.5" height="145.4" fill="#efd3d1"/>
<rect x="1283.4" y="1298.8" width="19.5" height="145.4" fill="#f0d6d5"/>
<rect x="1307.7" y="1298.8" width="19.5" height="145.4" fill="#f0d6d5"/>
<rect x="1332" y="1298.8" width="19.5" height="145.4" fill="#eececc"/>
<rect x="1356.4" y="1298.8" width="19.5" height="145.4" fill="#e5b6b3"/>
<rect x="1380.7" y="1298.8" width="19.5" height="145.4" fill="#dc9e9a"/>
<rect x="1429.4" y="1298.8" width="19.5" height="145.4" fill="#d99691"/>
<rect x="1453.8" y="1298.8" width="19.5" height="145.4" fill="#d58a85"/>
<rect x="1478.1" y="1298.8" width="19.5" height="145.4" fill="#d2817b"/>
<rect x="1502.5" y="1298.8" width="19.5" height="145.4" fill="#d2817b"/>
<rect x="1526.8" y="1298.8" width="19.5" height="145.4" fill="#d58a85"/>
<rect x="1551.2" y="1298.8" width="19.5" height="145.4" fill="#d8918c"/>
<rect x="1575.5" y="1298.8" width="19.5" height="145.4" fill="#d99691"/>
<rect x="1599.9" y="1298.8" width="19.5" height="145.4" fill="#db9b96"/>
<rect x="1624.2" y="1298.8" width="19.5" height="145.4" fill="#db9b96"/>
<rect x="1648.5" y="1298.8" width="19.5" height="145.4" fill="#db9b96"/>
<rect x="1672.9" y="1298.8" width="19.5" height="145.4" fill="#dc9e9a"/>
<rect x="1697.2" y="1298.8" width="19.5" height="145.4" fill="#dc9e9a"/>
<rect x="1721.6" y="1298.8" width="19.5" height="145.4" fill="#dfa6a2"/>
<rect x="1745.9" y="1298.8" width="19.5" height="145.4" fill="#e2aeaa"/>
<rect x="1770.3" y="1298.8" width="19.5" height="145.4" fill="#e4b3b0"/>
<rect x="1794.6" y="1298.8" width="19.5" height="145.4" fill="#e4b3b0"/>
<rect x="1819" y="1298.8" width="19.5" height="145.4" fill="#e4b3b0"/>
<rect x="1843.3" y="1298.8" width="19.5" height="145.4" fill="#e4b3b0"/>
<rect x="1867.7" y="1298.8" width="19.5" height="145.4" fill="#e4b3b0"/>
<rect x="1892" y="1298.8" width="19.5" height="145.4" fill="#e5b6b3"/>
<rect x="1916.4" y="1298.8" width="19.5" height="145.4" fill="#e5b6b3"/>
<rect x="1940.7" y="1298.8" width="19.5" height="145.4" fill="#e6b9b6"/>
<rect x="1965" y="1298.8" width="19.5" height="145.4" fill="#e7bdba"/>
<rect x="1989.4" y="1298.8" width="19.5" height="145.4" fill="#e8c0bd"/>
<rect x="2013.7" y="1298.8" width="19.5" height="145.4" fill="#eac3c0"/>
<rect x="2038.1" y="1298.8" width="19.5" height="145.4" fill="#ebc6c4"/>
<rect x="2062.4" y="1298.8" width="19.5" height="145.4" fill="#eccbc9"/>
<rect x="2086.8" y="1298.8" width="19.5" height="145.4" fill="#f0d6d5"/>
<rect x="2111.1" y="1298.8" width="19.5" height="145.4" fill="#cee9d4"/>
<rect x="2135.5" y="1298.8" width="19.5" height="145.4" fill="#bfe2c7"/>
<rect x="2159.8" y="1298.8" width="19.5" height="145.4" fill="#b0dbbb"/>
<rect x="2184.2" y="1298.8" width="19.5" height="145.4" fill="#9ed3ab"/>
<rect x="2208.5" y="1298.8" width="19.5" height="145.4" fill="#8ccb9b"/>
<rect x="2232.9" y="1298.8" width="19.5" height="145.4" fill="#83c793"/>
<rect x="2257.2" y="1298.8" width="19.5" height="145.4" fill="#76c188"/>
<rect x="2281.5" y="1298.8" width="19.5" height="145.4" fill="#63b878"/>
<rect x="2305.9" y="1298.8" width="19.5" height="145.4" fill="#51b068"/>
<rect x="2330.2" y="1298.8" width="19.5" height="145.4" fill="#3fa858"/>
<rect x="2354.6" y="1298.8" width="19.5" height="145.4" fill="#3fa858"/>
<rect x="2378.9" y="1298.8" width="19.5" height="145.4" fill="#51b068"/>
<rect x="2403.3" y="1298.8" width="19.5" height="145.4" fill="#63b878"/>
<rect x="2427.6" y="1298.8" width="19.5" height="145.4" fill="#70be83"/>
<rect x="2452" y="1298.8" width="19.5" height="145.4" fill="#7fc590"/>
<rect x="2476.3" y="1298.8" width="19.5" height="145.4" fill="#8ecc9c"/>
<rect x="2500.7" y="1298.8" width="19.5" height="145.4" fill="#97d0a4"/>
<rect x="2525" y="1298.8" width="19.5" height="145.4" fill="#a9d8b4"/>
<rect x="2549.3" y="1298.8" width="19.5" height="145.4" fill="#c3e4cb"/>
<rect x="2573.7" y="1298.8" width="19.5" height="145.4" fill="#f0d6d5"/>
<rect x="2598" y="1298.8" width="19.5" height="145.4" fill="#eccac7"/>
<rect x="2622.4" y="1298.8" width="19.5" height="145.4" fill="#e8bebb"/>
<rect x="2646.7" y="1298.8" width="19.5" height="145.4" fill="#e8bebb"/>
<rect x="2671.1" y="1298.8" width="19.5" height="145.4" fill="#eccac7"/>
<rect x="2695.4" y="1298.8" width="19.5" height="145.4" fill="#f3dfdd"/>
<rect x="2719.8" y="1298.8" width="19.5" height="145.4" fill="#c4e4cc"/>
<rect x="2744.1" y="1298.8" width="19.5" height="145.4" fill="#b0dbbb"/>
<rect x="2768.5" y="1298.8" width="19.5" height="145.4" fill="#9ed3ab"/>
<rect x="2792.8" y="1298.8" width="19.5" height="145.4" fill="#91cda0"/>
<rect x="2817.2" y="1298.8" width="19.5" height="145.4" fill="#8ecc9c"/>
<rect x="2841.5" y="1298.8" width="19.5" height="145.4" fill="#97d0a4"/>
<rect x="2865.8" y="1298.8" width="19.5" height="145.4" fill="#a4d6b0"/>
<rect x="2890.2" y="1298.8" width="19.5" height="145.4" fill="#b6debf"/>
<rect x="2914.5" y="1298.8" width="19.5" height="145.4" fill="#c8e6cf"/>
<rect x="2938.9" y="1298.8" width="19.5" height="145.4" fill="#f0d6d5"/>
<rect x="2963.2" y="1298.8" width="19.5" height="145.4" fill="#eececc"/>
<rect x="2987.6" y="1298.8" width="19.5" height="145.4" fill="#ebc6c4"/>
<rect x="3011.9" y="1298.8" width="19.5" height="145.4" fill="#e6b9b6"/>
<rect x="3036.3" y="1298.8" width="19.5" height="145.4" fill="#e3b1ae"/>
<rect x="3060.6" y="1298.8" width="19.5" height="145.4" fill="#e1aca9"/>
<rect x="3085" y="1298.8" width="19.5" height="145.4" fill="#dfa6a2"/>
<rect x="3109.3" y="1298.8" width="19.5" height="145.4" fill="#dc9e9a"/>
<rect x="3133.7" y="1298.8" width="19.5" height="145.4" fill="#dc9e9a"/>
<rect x="3158" y="1298.8" width="19.5" height="145.4" fill="#dda19d"/>
<rect x="3182.3" y="1298.8" width="19.5" height="145.4" fill="#e1aba7"/>
<rect x="3206.7" y="1298.8" width="19.5" height="145.4" fill="#e6b9b6"/>
<rect x="3231" y="1298.8" width="19.5" height="145.4" fill="#eccac7"/>
<rect x="3255.4" y="1298.8" width="19.5" height="145.4" fill="#f0d6d5"/>
<rect x="3279.7" y="1298.8" width="19.5" height="145.4" fill="#cee9d4"/>
<rect x="3304.1" y="1298.8" width="19.5" height="145.4" fill="#bfe2c7"/>
<rect x="3328.4" y="1298.8" width="19.5" height="145.4" fill="#b0dbbb"/>
<rect x="3352.8" y="1298.8" width="19.5" height="145.4" fill="#a7d7b3"/>
<rect x="3377.1" y="1298.8" width="19.5" height="145.4" fill="#9ed3ab"/>
<rect x="3401.5" y="1298.8" width="19.5" height="145.4" fill="#a2d5ae"/>
<rect x="3425.8" y="1298.8" width="19.5" height="145.4" fill="#a9d8b4"/>
<rect x="3450.2" y="1298.8" width="19.5" height="145.4" fill="#b6debf"/>
<rect x="3474.5" y="1298.8" width="19.5" height="145.4" fill="#c3e4cb"/>
<rect x="3498.8" y="1298.8" width="19.5" height="145.4" fill="#d1ead7"/>
<rect x="3523.2" y="1298.8" width="19.5" height="145.4" fill="#efd3d1"/>
<rect x="3547.5" y="1298.8" width="19.5" height="145.4" fill="#eccac7"/>
<rect x="3571.9" y="1298.8" width="19.5" height="145.4" fill="#e8c0bd"/>
<rect x="3596.2" y="1298.8" width="19.5" height="145.4" fill="#e6b9b6"/>
<line x1="628.7" x2="628.7" y1="1494.4" y2="1586.8" stroke="#f0f2f5" stroke-width="1.6"/>
<line x1="1268.6" x2="1268.6" y1="1494.4" y2="1586.8" stroke="#f0f2f5" stroke-width="1.6"/>
<line x1="1901.7" x2="1901.7" y1="1494.4" y2="1586.8" stroke="#f0f2f5" stroke-width="1.6"/>
<line x1="2541.6" x2="2541.6" y1="1494.4" y2="1586.8" stroke="#f0f2f5" stroke-width="1.6"/>
<line x1="3171.3" x2="3171.3" y1="1494.4" y2="1586.8" stroke="#f0f2f5" stroke-width="1.6"/>
<line x1="628.7" x2="628.7" y1="1638.2" y2="1730.6" stroke="#f0f2f5" stroke-width="1.6"/>
<line x1="1268.6" x2="1268.6" y1="1638.2" y2="1730.6" stroke="#f0f2f5" stroke-width="1.6"/>
<line x1="1901.7" x2="1901.7" y1="1638.2" y2="1730.6" stroke="#f0f2f5" stroke-width="1.6"/>
<line x1="2541.6" x2="2541.6" y1="1638.2" y2="1730.6" stroke="#f0f2f5" stroke-width="1.6"/>
<line x1="3171.3" x2="3171.3" y1="1638.2" y2="1730.6" stroke="#f0f2f5" stroke-width="1.6"/>
<line x1="628.7" x2="628.7" y1="1780.4" y2="1880.9" stroke="#f0f2f5" stroke-width="1.6"/>
<line x1="1268.6" x2="1268.6" y1="1780.4" y2="1880.9" stroke="#f0f2f5" stroke-width="1.6"/>
<line x1="1901.7" x2="1901.7" y1="1780.4" y2="1880.9" stroke="#f0f2f5" stroke-width="1.6"/>
<line x1="2541.6" x2="2541.6" y1="1780.4" y2="1880.9" stroke="#f0f2f5" stroke-width="1.6"/>
<line x1="3171.3" x2="3171.3" y1="1780.4" y2="1880.9" stroke="#f0f2f5" stroke-width="1.6"/>
<line x1="124.5" x2="3606" y1="1540.9" y2="1540.9" stroke="#cfd2d4" stroke-width="2"/>
<line x1="124.5" x2="3606" y1="1829.9" y2="1829.9" stroke="#cfd2d4" stroke-width="2"/>
<line x1="114" x2="3616" y1="1880.9" y2="1880.9" stroke="#cfd2d4" stroke-width="2"/>
<line x1="628.7" x2="628.7" y1="1881" y2="1889.5" stroke="#a8a8a8" stroke-width="2"/>
<text x="628.7" y="1916.3" font-size="23" fill="#444" text-anchor="middle" textLength="88.7" lengthAdjust="spacingAndGlyphs">Jul 2023</text>
<line x1="1268.6" x2="1268.6" y1="1881" y2="1889.5" stroke="#a8a8a8" stroke-width="2"/>
<text x="1268.6" y="1916.3" font-size="23" fill="#444" text-anchor="middle" textLength="96.1" lengthAdjust="spacingAndGlyphs">Jan 2024</text>
<line x1="1901.7" x2="1901.7" y1="1881" y2="1889.5" stroke="#a8a8a8" stroke-width="2"/>
<text x="1901.7" y="1916.3" font-size="23" fill="#444" text-anchor="middle" textLength="88.7" lengthAdjust="spacingAndGlyphs">Jul 2024</text>
<line x1="2541.6" x2="2541.6" y1="1881" y2="1889.5" stroke="#a8a8a8" stroke-width="2"/>
<text x="2541.6" y="1916.3" font-size="23" fill="#444" text-anchor="middle" textLength="96.1" lengthAdjust="spacingAndGlyphs">Jan 2025</text>
<line x1="3171.3" x2="3171.3" y1="1881" y2="1889.5" stroke="#a8a8a8" stroke-width="2"/>
<text x="3171.3" y="1916.3" font-size="23" fill="#444" text-anchor="middle" textLength="88.7" lengthAdjust="spacingAndGlyphs">Jul 2025</text>
<path d="M185.6,1518.5 H209.4 L197.5,1503 Z" fill="#16a34a"/>
<path d="M721.3,1518.5 H745 L733.1,1503 Z" fill="#16a34a"/>
<path d="M867.3,1518.5 H891.1 L879.2,1503 Z" fill="#16a34a"/>
<path d="M2109,1518.5 H2132.8 L2120.9,1503 Z" fill="#16a34a"/>
<path d="M2717.6,1518.5 H2741.4 L2729.5,1503 Z" fill="#16a34a"/>
<path d="M3277.6,1518.5 H3301.4 L3289.5,1503 Z" fill="#16a34a"/>
<path d="M477.8,1563.4 H501.6 L489.7,1578.9 Z" fill="#dc2626"/>
<path d="M794.3,1563.4 H818.1 L806.2,1578.9 Z" fill="#dc2626"/>
<path d="M1256.9,1563.4 H1280.7 L1268.8,1578.9 Z" fill="#dc2626"/>
<path d="M2571.6,1563.4 H2595.3 L2583.4,1578.9 Z" fill="#dc2626"/>
<path d="M2936.7,1563.4 H2960.5 L2948.6,1578.9 Z" fill="#dc2626"/>
<path d="M3521,1563.4 H3544.8 L3532.9,1578.9 Z" fill="#dc2626"/>
<path d="M1132.6,1677 H1161.5 L1147,1695.8 Z" fill="#e63946"/>
<path d="M2763.8,1677 H2792.6 L2778.2,1695.8 Z" fill="#e63946"/>
<path d="M2788.1,1677 H2817 L2802.6,1695.8 Z" fill="#e63946"/>
<path d="M2812.5,1677 H2841.3 L2826.9,1695.8 Z" fill="#e63946"/>
<path d="M1887.1,1689.6 H1916.4 L1901.8,1670.6 Z" fill="#2ca04b"/>
<path d="M1911.4,1689.6 H1940.8 L1926.1,1670.6 Z" fill="#2ca04b"/>
<path d="M1935.8,1689.6 H1965.1 L1950.5,1670.6 Z" fill="#2ca04b"/>
<path d="M1960.1,1689.6 H1989.5 L1974.8,1670.6 Z" fill="#2ca04b"/>
<path d="M1984.5,1689.6 H2013.8 L1999.1,1670.6 Z" fill="#2ca04b"/>
<path d="M2008.8,1689.6 H2038.2 L2023.5,1670.6 Z" fill="#2ca04b"/>
<path d="M2033.2,1689.6 H2062.5 L2047.8,1670.6 Z" fill="#2ca04b"/>
<text x="1" y="40.2" font-size="36.5" fill="#333" textLength="508.5" lengthAdjust="spacingAndGlyphs">Market Threshold [Indicator]</text>
<text x="106" y="116.2" font-size="25" fill="#2a2a2a" text-anchor="end" textLength="36.5" lengthAdjust="spacingAndGlyphs">0.8</text>
<text x="106" y="255.3" font-size="25" fill="#2a2a2a" text-anchor="end" textLength="36.5" lengthAdjust="spacingAndGlyphs">0.6</text>
<text x="106" y="394.5" font-size="25" fill="#2a2a2a" text-anchor="end" textLength="36.5" lengthAdjust="spacingAndGlyphs">0.4</text>
<text x="106" y="533.6" font-size="25" fill="#2a2a2a" text-anchor="end" textLength="36.5" lengthAdjust="spacingAndGlyphs">0.2</text>
<text x="106" y="672.7" font-size="25" fill="#2a2a2a" text-anchor="end" textLength="14.8" lengthAdjust="spacingAndGlyphs">0</text>
<text x="106" y="811.8" font-size="25" fill="#2a2a2a" text-anchor="end" textLength="54.5" lengthAdjust="spacingAndGlyphs">−0.2</text>
<text x="106" y="950.9" font-size="25" fill="#2a2a2a" text-anchor="end" textLength="54.5" lengthAdjust="spacingAndGlyphs">−0.4</text>
<text x="106" y="1090.1" font-size="25" fill="#2a2a2a" text-anchor="end" textLength="54.5" lengthAdjust="spacingAndGlyphs">−0.6</text>
<text x="106" y="1229.2" font-size="25" fill="#2a2a2a" text-anchor="end" textLength="54.5" lengthAdjust="spacingAndGlyphs">−0.8</text>
<text x="3618.7" y="156.5" font-size="25" fill="#2a2a2a" textLength="67" lengthAdjust="spacingAndGlyphs">22.00</text>
<text x="3618.7" y="357.5" font-size="25" fill="#2a2a2a" textLength="67" lengthAdjust="spacingAndGlyphs">20.00</text>
<text x="3618.7" y="558.5" font-size="25" fill="#2a2a2a" textLength="67" lengthAdjust="spacingAndGlyphs">18.00</text>
<text x="3618.7" y="759.5" font-size="25" fill="#2a2a2a" textLength="67" lengthAdjust="spacingAndGlyphs">16.00</text>
<text x="3618.7" y="960.5" font-size="25" fill="#2a2a2a" textLength="67" lengthAdjust="spacingAndGlyphs">14.00</text>
<text x="3618.7" y="1161.5" font-size="25" fill="#2a2a2a" textLength="67" lengthAdjust="spacingAndGlyphs">12.00</text>
<text transform="translate(25.3,664) rotate(-90)" font-size="29.3" fill="#2a2a2a" text-anchor="middle" textLength="419.5" lengthAdjust="spacingAndGlyphs">Market Threshold (Composite)</text>
<text transform="translate(3734.7,664) rotate(-90)" font-size="29.3" fill="#2a2a2a" text-anchor="middle" textLength="262.5" lengthAdjust="spacingAndGlyphs">Weekly Close Price</text>
<text x="3472.5" y="1828" font-size="24" fill="#969696" textLength="317.5" lengthAdjust="spacingAndGlyphs">source: sharemaestro.com</text>
<line x1="816" x2="871" y1="2125.2" y2="2125.2" stroke="#6e7075" stroke-width="3.5" stroke-dasharray="6 6"/>
<text x="887" y="2134" font-size="25.4" fill="#2a2a2a" textLength="127" lengthAdjust="spacingAndGlyphs">Magic Line</text>
<line x1="1034" x2="1094" y1="2125.2" y2="2125.2" stroke="#111" stroke-width="4"/>
<text x="1105" y="2134" font-size="25.4" fill="#2a2a2a" textLength="158.3" lengthAdjust="spacingAndGlyphs">Weekly Close</text>
<line x1="1283.5" x2="1343.7" y1="2125.2" y2="2125.2" stroke="#c5b8ed" stroke-width="3"/>
<text x="1354.5" y="2134" font-size="25.4" fill="#2a2a2a" textLength="126.9" lengthAdjust="spacingAndGlyphs">Composite</text>
<line x1="1502" x2="1562" y1="2125.2" y2="2125.2" stroke="#1f77b4" stroke-width="2" stroke-dasharray="18 18"/>
<text x="1573" y="2134" font-size="25.4" fill="#2a2a2a" textLength="141.8" lengthAdjust="spacingAndGlyphs">Baseline (0)</text>
<line x1="1735" x2="1790" y1="2125.2" y2="2125.2" stroke="#737373" stroke-width="2" stroke-dasharray="6 6"/>
<text x="1805.5" y="2134" font-size="25.4" fill="#2a2a2a" textLength="97.5" lengthAdjust="spacingAndGlyphs">Top Line</text>
<line x1="1925" x2="1980" y1="2125.2" y2="2125.2" stroke="#737373" stroke-width="2" stroke-dasharray="6 6"/>
<text x="1996.3" y="2134" font-size="25.4" fill="#2a2a2a" textLength="144.4" lengthAdjust="spacingAndGlyphs">Bottom Line</text>
<path d="M2179.3,2130.2 H2203.1 L2191.2,2114.7 Z" fill="#16a34a"/>
<text x="2232.2" y="2134" font-size="25.4" fill="#2a2a2a" textLength="172.3" lengthAdjust="spacingAndGlyphs">Ribbon Flip Up</text>
<path d="M2443.8,2119.7 H2467.6 L2455.7,2135.1 Z" fill="#dc2626"/>
<text x="2496" y="2134" font-size="25.4" fill="#2a2a2a" textLength="208" lengthAdjust="spacingAndGlyphs">Ribbon Flip Down</text>
<path d="M2740.2,2118.7 H2769.2 L2754.7,2137.6 Z" fill="#e63946"/>
<text x="2795.4" y="2134" font-size="25.4" fill="#2a2a2a" textLength="123.6" lengthAdjust="spacingAndGlyphs">Sell Signal</text>
<path d="M2954.5,2131.3 H2983.5 L2969,2112.4 Z" fill="#2ca04b"/>
<text x="3009.6" y="2134" font-size="25.4" fill="#2a2a2a" textLength="126.1" lengthAdjust="spacingAndGlyphs">Buy Signal</text>
</svg></body></html>
